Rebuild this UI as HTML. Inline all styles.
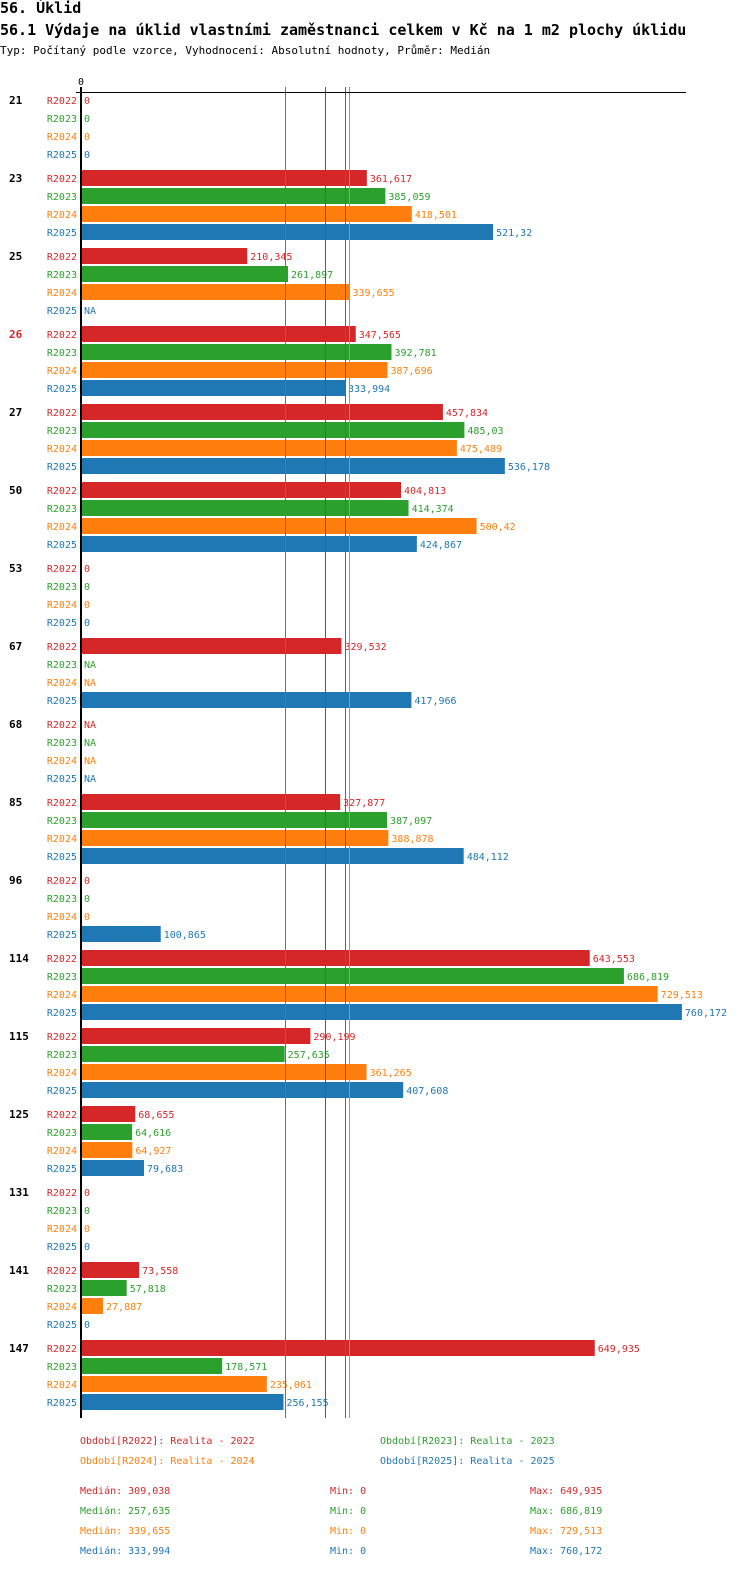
<!DOCTYPE html>
<html><head><meta charset="utf-8"><style>
body{margin:0;background:#fff;font-family:"DejaVu Sans Mono","Liberation Mono",monospace;}
svg text{font-family:"DejaVu Sans Mono","Liberation Mono",monospace;}
</style></head><body>
<svg id="c" width="750" height="1568" xmlns="http://www.w3.org/2000/svg">
<text x="0" y="13" font-size="15" font-weight="bold">56. Úklid</text>
<text x="0" y="35" font-size="15" font-weight="bold">56.1 Výdaje na úklid vlastními zaměstnanci celkem v Kč na 1 m2 plochy úklidu</text>
<text x="0" y="54" font-size="11">Typ: Počítaný podle vzorce, Vyhodnocení: Absolutní hodnoty, Průměr: Medián</text>
<text x="81" y="85" font-size="10" text-anchor="middle">0</text>
</svg>
<script>
const groups=["21","23","25","26","27","50","53","67","68","85","96","114","115","125","131","141","147"];
const series=["R2022","R2023","R2024","R2025"];
const r2022=[0,361.617,210.345,347.565,457.834,404.813,0,329.532,null,327.877,0,643.553,290.199,68.655,0,73.558,649.935];
const r2023=[0,385.059,261.897,392.781,485.03,414.374,0,null,null,387.097,0,686.819,257.635,64.616,0,57.818,178.571];
const r2024=[0,418.501,339.655,387.696,475.489,500.42,0,null,null,388.878,0,729.513,361.265,64.927,0,27.887,235.061];
const r2025=[0,521.32,null,333.994,536.178,424.867,0,417.966,null,484.112,100.865,760.172,407.608,79.683,0,0,256.155];
const medians=[309.038,257.635,339.655,333.994];
const mins=[0,0,0,0];
const maxs=[649.935,686.819,729.513,760.172];
const legendLabels=["Období[R2022]: Realita - 2022","Období[R2023]: Realita - 2023","Období[R2024]: Realita - 2024","Období[R2025]: Realita - 2025"];
const colors=["#d62728","#2ca02c","#ff7f0e","#1f77b4"];
const vals=[r2022,r2023,r2024,r2025];
const svg=document.getElementById('c');const NS="http://www.w3.org/2000/svg";
const x0=81,k=0.7905;
const xs=v=>x0+v*k;
const rowY=(g,s)=>100+g*78+s*18;
const fmt=v=>String(v).replace('.',',');
function el(t,a,txt){const e=document.createElementNS(NS,t);for(const n in a)e.setAttribute(n,a[n]);if(txt!==undefined)e.textContent=txt;svg.appendChild(e);return e;}
groups.forEach((g,gi)=>{
  const t=el('text',{x:9,y:rowY(gi,0)+4,'font-size':11,'font-weight':'bold',fill:g==="26"?"#d62728":"#000"},g);
  
  
  series.forEach((s,si)=>{
    const y=rowY(gi,si);
    const l=el('text',{x:77,y:y+4,'font-size':10,'text-anchor':'end',fill:colors[si]},s);
    
    
    const v=vals[si][gi];
    if(v!==null&&v>0){
      const r=el('rect',{x:x0,y:y-8,width:xs(v)-x0,height:16,fill:colors[si]});
      
      
    }
    const lx=(v!==null&&v>0)?xs(v)+3:x0+3;
    const vt=el('text',{x:lx,y:y+4,'font-size':10,fill:colors[si]},v===null?"NA":fmt(v));
    
    
  });
});
medians.forEach((m,i)=>{
  const xx=Math.round(xs(m))+0.5;
  const ln=el('line',{x1:xx,x2:xx,y1:87,y2:1418,stroke:colors[i],'stroke-width':1});
  
  
});
const ax=el('line',{x1:76,x2:686,y1:92.5,y2:92.5,stroke:'#000','stroke-width':1});


const ay=el('line',{x1:81,x2:81,y1:87,y2:1418,stroke:'#000','stroke-width':2});


legendLabels.forEach((t,i)=>{
  const e=el('text',{x:i%2?380:80,y:1444+Math.floor(i/2)*20,'font-size':10,fill:colors[i]},t);
  
  
});
series.forEach((s,i)=>{
  const y=1494+i*20;
  const a=el('text',{x:80,y:y,'font-size':10,fill:colors[i]},"Medián: "+fmt(medians[i]));
  
  
  const b=el('text',{x:330,y:y,'font-size':10,fill:colors[i]},"Min: "+fmt(mins[i]));
  
  
  const c=el('text',{x:530,y:y,'font-size':10,fill:colors[i]},"Max: "+fmt(maxs[i]));
  
  
});
</script>
</body></html>
